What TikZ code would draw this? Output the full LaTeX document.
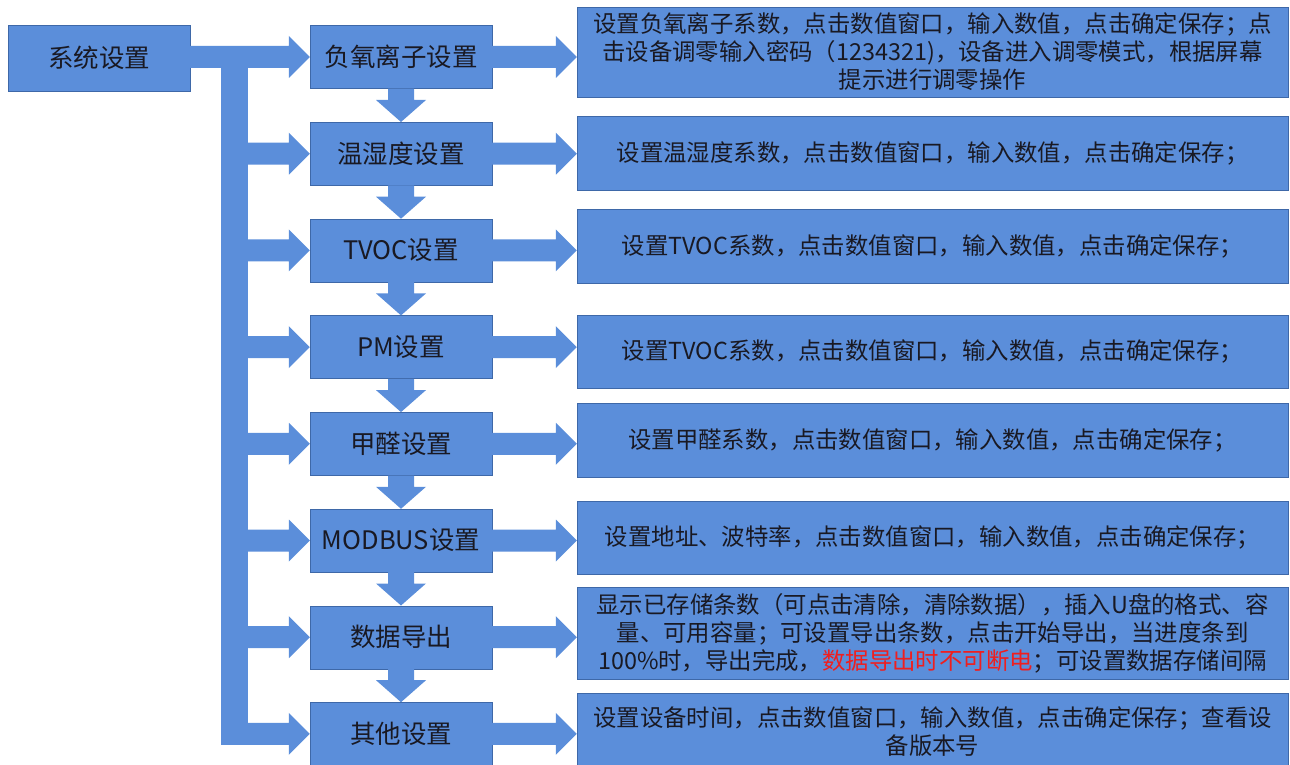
\documentclass[tikz,border=0pt]{standalone}
\usepackage{fontspec}
\setmainfont{Noto Sans CJK SC}
\usetikzlibrary{calc}
\definecolor{boxblue}{RGB}{91,142,218}
\definecolor{edgeblue}{RGB}{62,104,168}
\definecolor{warnred}{RGB}{240,30,30}
\definecolor{inkgrey}{RGB}{25,25,35}
% block arrows: #1 = start of shaft, #2 = tip
\newcommand{\harrow}[2]{%
  \fill[boxblue] ($(#1)+(0,-11)$) -- ($(#2)+(-21,-11)$) -- ($(#2)+(-21,-21)$) -- (#2)
    -- ($(#2)+(-21,21)$) -- ($(#2)+(-21,11)$) -- ($(#1)+(0,11)$) -- cycle;}
\newcommand{\varrow}[2]{%
  \fill[boxblue] ($(#1)+(-13,0)$) -- ($(#2)+(-13,-22)$) -- ($(#2)+(-25,-22)$) -- (#2)
    -- ($(#2)+(25,-22)$) -- ($(#2)+(13,-22)$) -- ($(#1)+(13,0)$) -- cycle;}

\begin{document}
\begin{tikzpicture}[x=1pt,y=-1pt,
  stage/.style={draw=edgeblue,fill=boxblue,text=inkgrey,minimum width=182pt,
    minimum height=63pt,inner sep=0pt,font=\fontsize{25.5}{30}\selectfont},
  detail/.style={draw=edgeblue,fill=boxblue,text=inkgrey,minimum width=711pt,
    text width=700pt,align=center,inner sep=0pt,font=\fontsize{23.4}{28}\selectfont}]

\useasboundingbox (0,0) rectangle (1290,765);

\node[stage,minimum height=66pt] (sys) at (99,58) {系统设置};

% middle column
\node[stage] (ion) at (401,57) {负氧离子设置};
\node[stage] (hum) at (401,153.7) {温湿度设置};
\node[stage] (tvoc) at (401,250.4) {TVOC设置};
\node[stage] (pm) at (401,347.1) {PM设置};
\node[stage] (hcho) at (401,443.8) {甲醛设置};
\node[stage] (modbus) at (401,540.5) {MODBUS设置};
\node[stage] (export) at (401,637.2) {数据导出};
\node[stage] (other) at (401,733.9) {其他设置};

% right column
\node[detail,minimum height=90pt] (ionset) at (932.5,52)
  {设置负氧离子系数，点击数值窗口，输入数值，点击确定保存；点\\
   击设备调零输入密码（1234321)，设备进入调零模式，根据屏幕\\
   提示进行调零操作};
\node[detail,minimum height=74pt] (humset) at (932.5,153)
  {设置温湿度系数，点击数值窗口，输入数值，点击确定保存；};
\node[detail,minimum height=74pt] (tvocset) at (932.5,246)
  {设置TVOC系数，点击数值窗口，输入数值，点击确定保存；};
\node[detail,minimum height=73pt] (pmset) at (932.5,351.5)
  {设置TVOC系数，点击数值窗口，输入数值，点击确定保存；};
\node[detail,minimum height=74pt] (hchoset) at (932.5,440)
  {设置甲醛系数，点击数值窗口，输入数值，点击确定保存；};
\node[detail,minimum height=73pt] (modbusset) at (932.5,537.5)
  {设置地址、波特率，点击数值窗口，输入数值，点击确定保存；};
\node[detail,minimum height=92pt] (exportset) at (932.5,633)
  {显示已存储条数（可点击清除，清除数据），插入U盘的格式、容\\
   量、可用容量；可设置导出条数，点击开始导出，当进度条到\\
   100\%时，导出完成，\textcolor{warnred}{数据导出时不可断电}；可设置数据存储间隔};
\node[detail,minimum height=77pt] (otherset) at (932.5,731.5)
  {设置设备时间，点击数值窗口，输入数值，点击确定保存；查看设\\
   备版本号};

% bus on the left
\coordinate (busx) at (221,0);
\fill[boxblue] ($(busx |- ion.west)+(0,-11)$) rectangle ($(busx |- other.west)+(27,11)$);
\harrow{sys.east |- ion.west}{ion.west}
\foreach \s in {hum,tvoc,pm,hcho,modbus,export,other}
  \harrow{busx |- \s.west}{\s.west};

% down the middle
\varrow{ion.south}{hum.north}
\varrow{hum.south}{tvoc.north}
\varrow{tvoc.south}{pm.north}
\varrow{pm.south}{hcho.north}
\varrow{hcho.south}{modbus.north}
\varrow{modbus.south}{export.north}
\varrow{export.south}{other.north}

% out to the right
\harrow{ion.east}{ion.east -| ionset.west}
\harrow{hum.east}{hum.east -| humset.west}
\harrow{tvoc.east}{tvoc.east -| tvocset.west}
\harrow{pm.east}{pm.east -| pmset.west}
\harrow{hcho.east}{hcho.east -| hchoset.west}
\harrow{modbus.east}{modbus.east -| modbusset.west}
\harrow{export.east}{export.east -| exportset.west}
\harrow{other.east}{other.east -| otherset.west}
\end{tikzpicture}
\end{document}
